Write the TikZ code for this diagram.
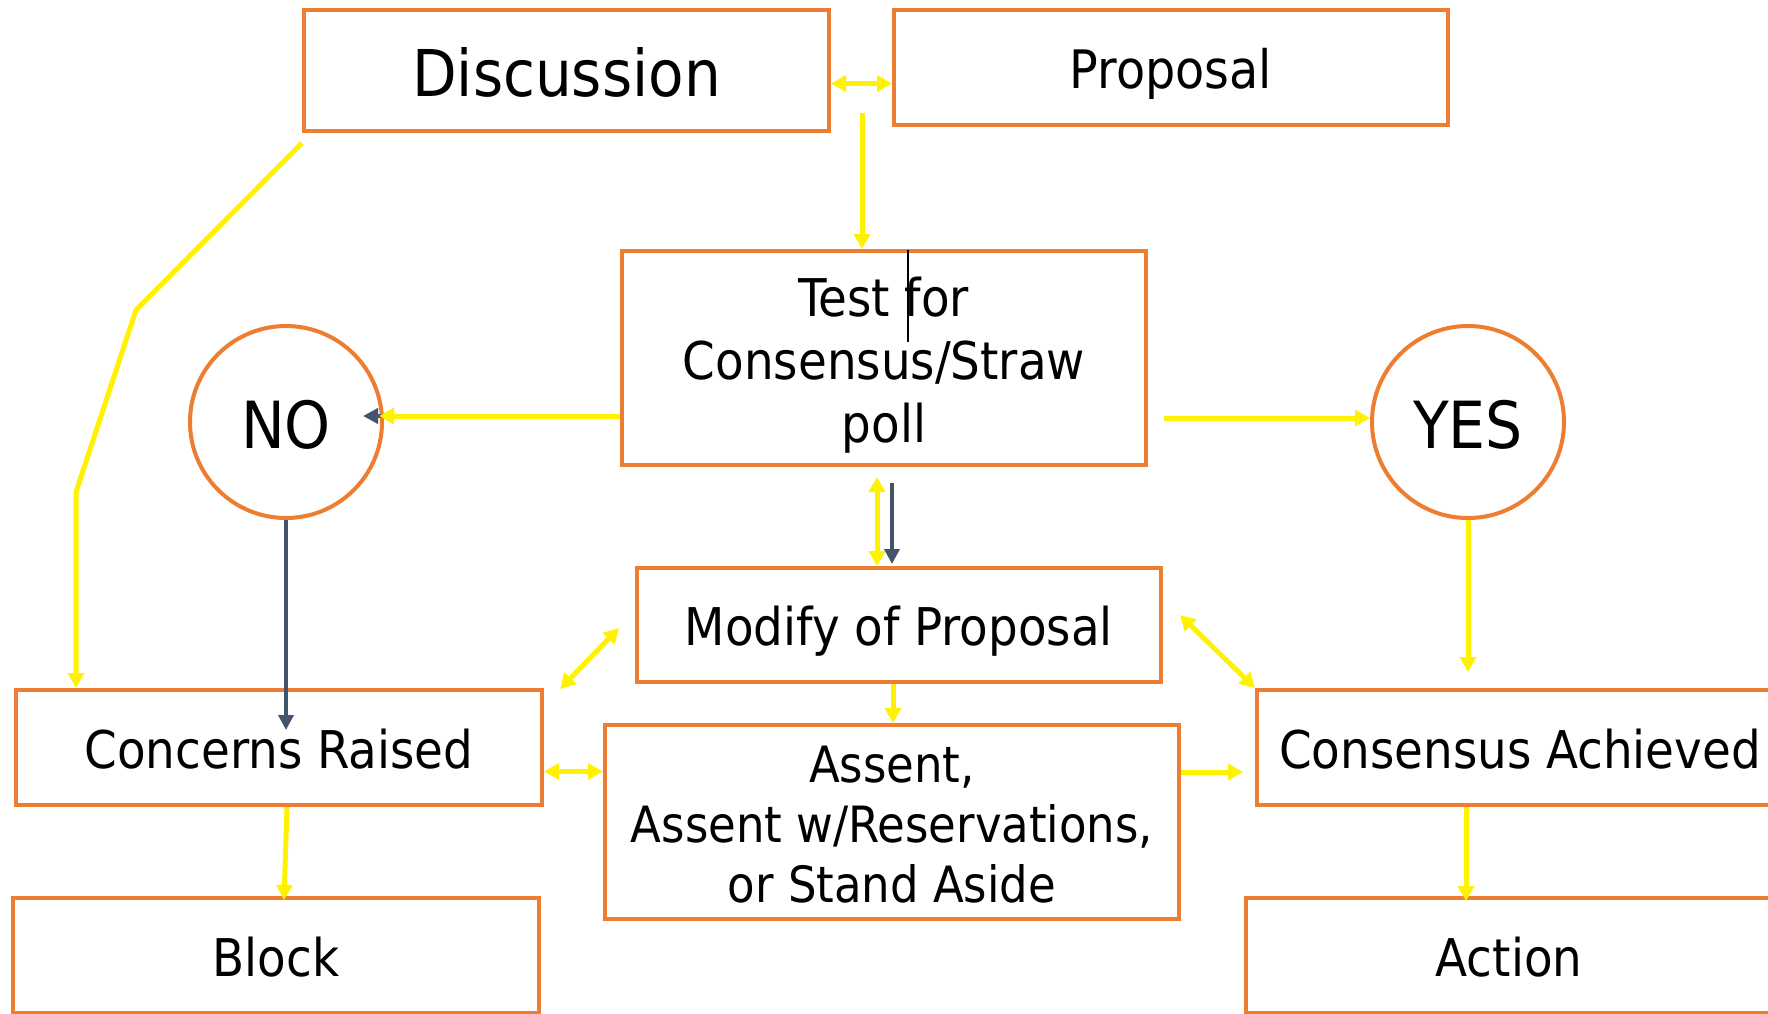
\documentclass[tikz,border=0pt]{standalone}
\usepackage{fontspec}
\setmainfont{DejaVu Sans Condensed}
\usetikzlibrary{arrows.meta}
\definecolor{boxorange}{RGB}{237,125,49}
\definecolor{slate}{RGB}{68,84,106}
\begin{document}
\begin{tikzpicture}[x=1pt,y=-1pt,
	box/.style={draw=boxorange,line width=4pt,inner sep=0pt,align=center,text height=41.5pt,text depth=0pt,font=\fontsize{52}{62}\selectfont},
	multi/.style={text height={},text depth={}},
	circ/.style={draw=boxorange,line width=4pt,circle,minimum size=192pt,inner sep=0pt,text height=52pt,text depth=0pt,font=\fontsize{65}{72}\selectfont},
	yarr/.style={yellow,line width=5pt,>={Triangle[width=16pt,length=15pt]}},
	darr/.style={slate,line width=4.5pt,>={Triangle[width=15pt,length=15pt]},->}]
		\clip (0,0) rectangle (1768,1013);
		\node[box,minimum width=525pt,minimum height=121pt,text height=51.5pt,font=\fontsize{64.5}{72}\selectfont] (disc) at (566.5,70.5) {Discussion};
		\node[box,minimum width=554pt,minimum height=115pt,text height=42.5pt,font=\fontsize{53}{62}\selectfont] (prop) at (1171,67.5) {Proposal};
		\node[box,multi,minimum width=524pt,minimum height=214pt,font=\fontsize{52}{63}\selectfont] (test) at (884,358) {\rule{0pt}{53.5pt}Test for\\Consensus/Straw\\poll};
		\node[circ] (no) at (286,422) {NO};
		\node[circ] (yes) at (1468,422) {YES};
		\node[box,minimum width=524pt,minimum height=114pt] (mod) at (899,625) {Modify of Proposal};
		\node[box,minimum width=526pt,minimum height=115pt] (conc) at (279,747.5) {Concerns Raised};
		\node[box,multi,minimum width=574pt,minimum height=194pt,font=\fontsize{50}{60}\selectfont] (assent) at (892,822) {\rule{0pt}{42.5pt}Assent,\\Assent w/Reservations,\\or Stand Aside};
		\node[box,minimum width=526pt,minimum height=115pt] (cons) at (1520,747.5) {Consensus Achieved};
		\node[box,minimum width=526pt,minimum height=115pt] (block) at (276,955.5) {Block};
		\node[box,minimum width=526pt,minimum height=115pt] (action) at (1509,955.5) {Action};
		\draw[line width=1.5pt] (908,250) -- (908,342);
		\coordinate (gap) at (862,113);
		\coordinate (t1) at ([shift={(0,58)}]test.west);
		\coordinate (t2) at ([shift={(16,60)}]test.east);
		\coordinate (t3) at ([shift={(-7,10)}]test.south);
		\coordinate (t4) at ([shift={(-6,0)}]mod.south);
		\coordinate (t5) at ([shift={(0,24)}]conc.east);
		\coordinate (t6) at ([shift={(0,-50)}]assent.east);
		\coordinate (t7) at ([shift={(-54,0)}]cons.south);
		\coordinate (k1) at (136,310);
		\coordinate (k2) at (76,492);
		\draw[yarr,<->] ([shift={(0,13)}]disc.east) -- ([shift={(0,13)}]disc.east -| prop.west);
		\draw[yarr,->] (gap) -- (gap |- test.north);
		\draw[darr,shorten >=-21pt] (t1) -- (t1 -| no.east);
		\draw[yarr,->,shorten >=-5pt] (t1) -- (t1 -| no.east);
		\draw[yarr,->] (t2) -- (t2 -| yes.west);
		\draw[yarr,<->] (t3) -- (t3 |- mod.north);
		\draw[darr,shorten >=18pt] ([shift={(8,16)}]test.south) -- ([shift={(8,16)}]test.south |- mod.north);
		\draw[darr,shorten >=-42pt] (no.south) -- (no.south |- conc.north);
		\draw[yarr,->] ([shift={(0,10)}]disc.south west) -- (k1) -- (k2) -- (k2 |- conc.north);
		\draw[yarr,<->] ([shift={(16,1)}]conc.north east) -- ([shift={(-16,-56)}]mod.south west);
		\draw[yarr,<->] ([shift={(17,-10)}]mod.east) -- (cons.north west);
		\draw[yarr,->] (t4) -- (t4 |- assent.north);
		\draw[yarr,<->] (t5) -- (t5 -| assent.west);
		\draw[yarr,->,shorten >=12pt] (t6) -- (t6 -| cons.west);
		\draw[yarr,->,shorten >=16pt] (yes.south) -- (yes.south |- cons.north);
		\draw[yarr,->] ([shift={(8,0)}]conc.south) -- ([shift={(8,4)}]block.north);
		\draw[yarr,->,shorten >=-5pt] (t7) -- (t7 |- action.north);
\end{tikzpicture}
\end{document}
